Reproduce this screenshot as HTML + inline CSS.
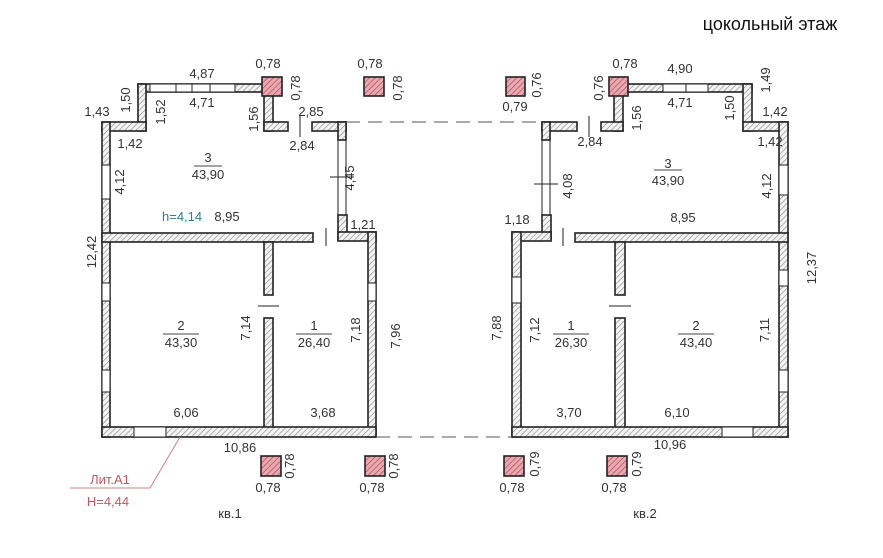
<!DOCTYPE html>
<html><head><meta charset="utf-8"><style>
html,body{margin:0;padding:0;background:#fff;}
svg{display:block;}
text{font-family:"Liberation Sans","DejaVu Sans",sans-serif;font-size:13px;fill:#333;}
</style></head><body>
<svg width="883" height="558" viewBox="0 0 883 558" xmlns="http://www.w3.org/2000/svg">
<defs>
<pattern id="h" width="4" height="4" patternUnits="userSpaceOnUse" patternTransform="rotate(45)">
<rect width="4" height="4" fill="#f4f4f4"/><line x1="0" y1="0" x2="0" y2="4" stroke="#8a8a8a" stroke-width="1.3"/></pattern>
<pattern id="p" width="4" height="4" patternUnits="userSpaceOnUse" patternTransform="rotate(45)">
<rect width="4" height="4" fill="#e9a9b0"/><line x1="0" y1="0" x2="0" y2="4" stroke="#b04050" stroke-width="1.3"/></pattern>
</defs>
<rect width="883" height="558" fill="#fff"/>
<text x="770" y="30" style="font-size:18px;fill:#111" text-anchor="middle">цокольный этаж</text>

<g fill="url(#h)" stroke="#222" stroke-width="1.6">
<rect x="138" y="84" width="126" height="8"/>
<rect x="138" y="84" width="8" height="47"/>
<rect x="102" y="122" width="44" height="9"/>
<rect x="102" y="122" width="8" height="315"/>
<rect x="264" y="92" width="9" height="39"/>
<rect x="264" y="122" width="24" height="9"/>
<rect x="312" y="122" width="34" height="9"/>
<rect x="338" y="122" width="8" height="18"/>
<rect x="338" y="215" width="9" height="25"/>
<rect x="338" y="232" width="38" height="9"/>
<rect x="368" y="232" width="8" height="205"/>
<rect x="102" y="233" width="211" height="9"/>
<rect x="264" y="242" width="9" height="53"/>
<rect x="264" y="318" width="9" height="112"/>
<rect x="102" y="427" width="274" height="10"/>
<rect x="623" y="84" width="129" height="8"/>
<rect x="743" y="84" width="9" height="47"/>
<rect x="743" y="122" width="45" height="9"/>
<rect x="779" y="122" width="9" height="315"/>
<rect x="614" y="92" width="9" height="39"/>
<rect x="601" y="122" width="22" height="9"/>
<rect x="542" y="122" width="35" height="9"/>
<rect x="542" y="122" width="8" height="18"/>
<rect x="542" y="215" width="9" height="25"/>
<rect x="512" y="232" width="39" height="9"/>
<rect x="512" y="232" width="9" height="205"/>
<rect x="575" y="233" width="213" height="9"/>
<rect x="615" y="242" width="10" height="53"/>
<rect x="615" y="318" width="10" height="112"/>
<rect x="512" y="427" width="276" height="10"/>
</g>
<g fill="#fff" stroke="#222" stroke-width="1">
<rect x="150" y="84" width="85" height="8"/>
<rect x="102" y="165" width="8" height="34"/>
<rect x="102" y="283" width="8" height="18"/>
<rect x="102" y="370" width="8" height="22"/>
<rect x="368" y="283" width="8" height="18"/>
<rect x="134" y="427" width="32" height="10"/>
<rect x="663" y="84" width="45" height="8"/>
<rect x="779" y="165" width="9" height="30"/>
<rect x="779" y="270" width="9" height="16"/>
<rect x="779" y="370" width="9" height="22"/>
<rect x="512" y="277" width="9" height="26"/>
<rect x="722" y="427" width="31" height="10"/>
</g>
<g stroke="#222" stroke-width="1" fill="none">
<line x1="176" y1="84" x2="176" y2="92"/><line x1="192" y1="84" x2="192" y2="92"/><line x1="210" y1="84" x2="210" y2="92"/>
<line x1="686" y1="84" x2="686" y2="92"/>
<line x1="338" y1="140" x2="338" y2="215"/><line x1="346" y1="140" x2="346" y2="215"/>
<line x1="542" y1="140" x2="542" y2="215"/><line x1="550" y1="140" x2="550" y2="215"/>
<line x1="330" y1="177" x2="354" y2="177"/><line x1="534" y1="184" x2="558" y2="184"/>
<line x1="300" y1="116" x2="300" y2="137"/><line x1="589" y1="116" x2="589" y2="137"/>
<line x1="326" y1="228" x2="326" y2="246"/><line x1="563" y1="228" x2="563" y2="246"/>
<line x1="258" y1="306" x2="279" y2="306"/><line x1="609" y1="306" x2="631" y2="306"/>
<line x1="264" y1="295" x2="273" y2="295"/><line x1="264" y1="318" x2="273" y2="318"/>
<line x1="615" y1="295" x2="625" y2="295"/><line x1="615" y1="318" x2="625" y2="318"/>
</g>
<g stroke="#555" stroke-width="1" stroke-dasharray="14,8">
<line x1="346" y1="122" x2="542" y2="122"/>
<line x1="376" y1="437" x2="512" y2="437"/>
</g>
<g fill="url(#p)" stroke="#222" stroke-width="1.6">
<rect x="262" y="77" width="20" height="19"/>
<rect x="364" y="77" width="20" height="19"/>
<rect x="506" y="77" width="19" height="19"/>
<rect x="609" y="77" width="19" height="19"/>
<rect x="261" y="456" width="20" height="20"/>
<rect x="365" y="456" width="20" height="20"/>
<rect x="504" y="456" width="20" height="20"/>
<rect x="607" y="456" width="20" height="20"/>
</g>
<polyline points="180,437 150,488 70,488" fill="none" stroke="#d08088" stroke-width="1"/>
<text x="110" y="484" text-anchor="middle" style="fill:#c05a64">Лит.А1</text>
<text x="108" y="506" text-anchor="middle" style="fill:#c05a64">Н=4,44</text>
<text x="162" y="221" style="fill:#2e7fa0">h=4,14</text>

<g text-anchor="middle">
<text x="268" y="68">0,78</text><text x="370" y="68">0,78</text>
<text x="202" y="78">4,87</text><text x="202" y="107">4,71</text>
<text x="97" y="116">1,43</text><text x="311" y="116">2,85</text>
<text x="302" y="150">2,84</text><text x="130" y="148">1,42</text>
<text x="208" y="162">3</text><text x="208" y="179">43,90</text>
<text x="227" y="221">8,95</text><text x="363" y="229">1,21</text>
<text x="181" y="330">2</text><text x="181" y="347">43,30</text>
<text x="314" y="330">1</text><text x="314" y="347">26,40</text>
<text x="186" y="417">6,06</text><text x="323" y="417">3,68</text>
<text x="240" y="452">10,86</text>
<text x="268" y="492">0,78</text><text x="372" y="492">0,78</text>
<text x="230" y="518">кв.1</text>
<text x="515" y="111">0,79</text><text x="625" y="68">0,78</text>
<text x="680" y="73">4,90</text><text x="680" y="107">4,71</text>
<text x="775" y="116">1,42</text><text x="590" y="146">2,84</text>
<text x="770" y="146">1,42</text>
<text x="668" y="168">3</text><text x="668" y="185">43,90</text>
<text x="517" y="224">1,18</text><text x="683" y="222">8,95</text>
<text x="571" y="330">1</text><text x="571" y="347">26,30</text>
<text x="696" y="330">2</text><text x="696" y="347">43,40</text>
<text x="569" y="417">3,70</text><text x="677" y="417">6,10</text>
<text x="670" y="449">10,96</text>
<text x="512" y="492">0,78</text><text x="614" y="492">0,78</text>
<text x="645" y="518">кв.2</text>
</g>
<g stroke="#444" stroke-width="0.9">
<line x1="194" y1="166" x2="222" y2="166"/><line x1="163" y1="334" x2="199" y2="334"/>
<line x1="296" y1="334" x2="332" y2="334"/><line x1="654" y1="170" x2="682" y2="170"/>
<line x1="553" y1="334" x2="589" y2="334"/><line x1="678" y1="334" x2="714" y2="334"/>
</g>
<g text-anchor="middle">
<text transform="translate(130,100) rotate(-90)">1,50</text>
<text transform="translate(165,112) rotate(-90)">1,52</text>
<text transform="translate(258,119) rotate(-90)">1,56</text>
<text transform="translate(300,88) rotate(-90)">0,78</text>
<text transform="translate(402,88) rotate(-90)">0,78</text>
<text transform="translate(124,182) rotate(-90)">4,12</text>
<text transform="translate(354,178) rotate(-90)">4,45</text>
<text transform="translate(96,252) rotate(-90)">12,42</text>
<text transform="translate(250,328) rotate(-90)">7,14</text>
<text transform="translate(360,330) rotate(-90)">7,18</text>
<text transform="translate(400,336) rotate(-90)">7,96</text>
<text transform="translate(294,466) rotate(-90)">0,78</text>
<text transform="translate(398,466) rotate(-90)">0,78</text>
<text transform="translate(541,85) rotate(-90)">0,76</text>
<text transform="translate(603,88) rotate(-90)">0,76</text>
<text transform="translate(641,118) rotate(-90)">1,56</text>
<text transform="translate(734,108) rotate(-90)">1,50</text>
<text transform="translate(770,80) rotate(-90)">1,49</text>
<text transform="translate(572,186) rotate(-90)">4,08</text>
<text transform="translate(771,186) rotate(-90)">4,12</text>
<text transform="translate(816,268) rotate(-90)">12,37</text>
<text transform="translate(501,328) rotate(-90)">7,88</text>
<text transform="translate(539,330) rotate(-90)">7,12</text>
<text transform="translate(769,330) rotate(-90)">7,11</text>
<text transform="translate(539,464) rotate(-90)">0,79</text>
<text transform="translate(641,464) rotate(-90)">0,79</text>
</g>
</svg>
</body></html>
